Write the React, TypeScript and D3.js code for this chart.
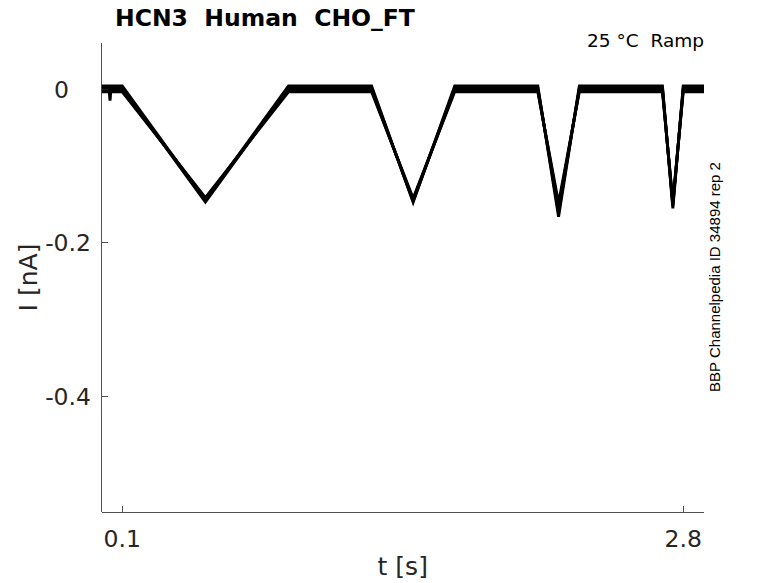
import { useEffect, useRef } from "react";
import * as d3 from "d3";

// sample times (s) shared by all sweeps
const times = [0, 0.035, 0.041, 0.047, 0.1, 0.5, 0.9, 1.3, 1.5, 1.7, 2.1, 2.2, 2.3, 2.7, 2.75, 2.8, 2.9];
// current (nA) of each sweep
const sweep1 = [0.004, 0.004, -0.015, 0.004, 0.004, -0.145, 0.004, 0.004, -0.147, 0.004, 0.004, -0.166, 0.004, 0.004, -0.155, 0.004, 0.004];
const sweep2 = [0.0015, 0.0015, 0.0015, 0.0015, 0.0015, -0.147, 0.0015, 0.0015, -0.146, 0.0015, 0.0015, -0.160, 0.0015, 0.0015, -0.152, 0.0015, 0.0015];
const sweep3 = [-0.001, -0.001, -0.001, -0.001, -0.001, -0.143, -0.001, -0.001, -0.144, -0.001, -0.001, -0.154, -0.001, -0.001, -0.149, -0.001, -0.001];
const sweep4 = [-0.0035, -0.0035, -0.0035, -0.0035, -0.0035, -0.141, -0.0035, -0.0035, -0.142, -0.0035, -0.0035, -0.148, -0.0035, -0.0035, -0.146, -0.0035, -0.0035];
const sweeps = [sweep1, sweep2, sweep3, sweep4];

const xTicks = [0.1, 2.8];
const xTickLabels = ["0.1", "2.8"];
const yTicks = [0, -0.2, -0.4];
const yTickLabels = ["0", "-0.2", "-0.4"];

const title = "HCN3  Human  CHO_FT";
const subtitle = "25 °C  Ramp";
const sideNote = "BBP Channelpedia ID 34894 rep 2";

const App: React.FC = () => {
    const svgRef = useRef<SVGSVGElement>(null);
    useEffect(() => {
        const width = 778;
        const height = 583;
        const left = 101.5;
        const right = 704;
        const top = 43;
        const bottom = 512;
        const axisColor = "#262626";
        const font = "DejaVu Sans, sans-serif";

        const svg = d3.select(svgRef.current);
        svg.selectAll("*").remove();
        svg.attr("width", width).attr("height", height);

        const x = d3.scaleLinear().domain([0, 2.9]).range([left, right]);
        const y = d3.scaleLinear().domain([-0.55, 0.06]).range([bottom, top]);

        svg.append("defs").append("clipPath").attr("id", "plot")
            .append("rect")
            .attr("x", left).attr("y", top)
            .attr("width", right - left).attr("height", bottom - top);

        // traces
        const line = d3.line<number>()
            .x((_, i) => x(times[i]))
            .y(d => y(d));

        svg.append("g")
            .attr("clip-path", "url(#plot)")
            .selectAll("path")
            .data(sweeps).enter()
            .append("path")
            .attr("d", d => line(d))
            .attr("fill", "none")
            .attr("stroke", "#000")
            .attr("stroke-width", 2.9)
            .attr("stroke-linejoin", "miter");

        // axes (MATLAB style, ticks pointing in, no box)
        const axes = svg.append("g")
            .attr("stroke", axisColor)
            .attr("stroke-width", 0.8)
            .attr("shape-rendering", "crispEdges");
        axes.append("line").attr("x1", left).attr("x2", right).attr("y1", bottom).attr("y2", bottom);
        axes.append("line").attr("x1", left).attr("x2", left).attr("y1", top).attr("y2", bottom);
        xTicks.forEach(t => {
            axes.append("line").attr("x1", x(t)).attr("x2", x(t)).attr("y1", bottom).attr("y2", bottom - 6);
        });
        yTicks.forEach(t => {
            axes.append("line").attr("x1", left).attr("x2", left + 6).attr("y1", y(t)).attr("y2", y(t));
        });

        // tick labels
        xTicks.forEach((t, i) => {
            svg.append("text")
                .attr("x", x(t)).attr("y", 547)
                .attr("text-anchor", "middle")
                .attr("font-family", font).attr("font-size", 23.5)
                .attr("fill", axisColor)
                .text(xTickLabels[i]);
        });
        yTicks.forEach((t, i) => {
            // MATLAB pads "0" as if it were "0.0"
            const dx = yTickLabels[i] === "0" ? -22 : 0;
            svg.append("text")
                .attr("x", 91 + dx).attr("y", y(t) + 8.5)
                .attr("text-anchor", "end")
                .attr("font-family", font).attr("font-size", 23.5)
                .attr("fill", axisColor)
                .text(yTickLabels[i]);
        });

        // axis labels
        svg.append("text")
            .attr("x", (left + right) / 2).attr("y", 575)
            .attr("text-anchor", "middle")
            .attr("font-family", font).attr("font-size", 25)
            .attr("fill", axisColor)
            .text("t [s]");
        svg.append("text")
            .attr("transform", `translate(37,${(top + bottom) / 2}) rotate(-90)`)
            .attr("text-anchor", "middle")
            .attr("font-family", font).attr("font-size", 25)
            .attr("fill", axisColor)
            .text("I [nA]");

        // title and notes
        svg.append("text")
            .attr("x", 115).attr("y", 26)
            .style("white-space", "pre")
            .attr("font-family", font).attr("font-size", 23.5)
            .attr("font-weight", "bold")
            .attr("fill", "#000")
            .text(title);
        svg.append("text")
            .attr("x", 704).attr("y", 47)
            .style("white-space", "pre")
            .attr("text-anchor", "end")
            .attr("font-family", font).attr("font-size", 18.5)
            .attr("fill", "#000")
            .text(subtitle);
        svg.append("text")
            .attr("transform", "translate(720,277) rotate(-90)")
            .attr("text-anchor", "middle")
            .attr("font-family", "Liberation Sans, Arial, sans-serif").attr("font-size", 15)
            .attr("fill", "#000")
            .text(sideNote);
    }, []);

    return (
        <svg ref={svgRef} style={{ position: "absolute", left: 0, top: 0, background: "#fff" }}></svg>
    );
};

export default App;
